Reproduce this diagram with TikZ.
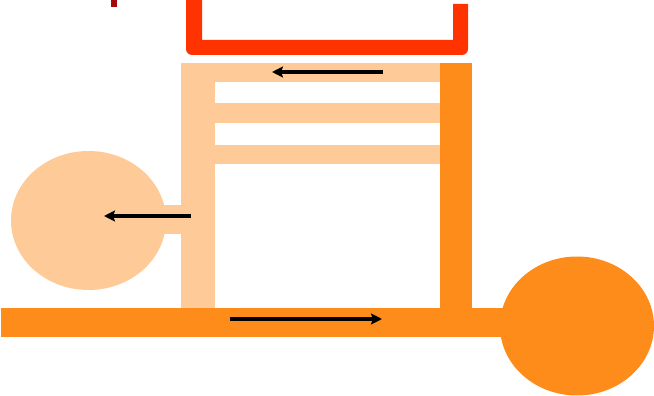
\documentclass[tikz,border=0pt]{standalone}
\usetikzlibrary{arrows.meta,shapes.geometric}
\definecolor{lightor}{HTML}{FECA98}
\definecolor{darkor}{HTML}{FD8C1A}
\definecolor{redu}{HTML}{FF3300}
\definecolor{darkred}{HTML}{A50A0A}
\tikzset{
  lightpart/.style={fill=lightor},
  darkpart/.style={fill=darkor},
  tank/.style={ellipse, inner sep=0pt, draw=none},
  flow/.style={draw=black, line width=3.5pt, -{Stealth[length=11pt,width=11pt,inset=2pt]}}
}
\begin{document}
\begin{tikzpicture}[x=1pt,y=-1pt]
\useasboundingbox (0,0) rectangle (654,396);
% small red mark
\fill[darkred] (111,-1) rectangle (117,7);
% red U
\fill[redu] (186,-2) -- (186,49) arc[start angle=180,end angle=90,radius=6]
  -- (462,55) arc[start angle=90,end angle=0,radius=6]
  -- (468,4) -- (453,4) -- (453,40) -- (202,40) -- (202,-2) -- cycle;
% light structure
\fill[lightpart] (181,63) rectangle (215,308);
\fill[lightpart] (181,63) rectangle (441,82);
\fill[lightpart] (214,103) rectangle (441,123);
\fill[lightpart] (214,145) rectangle (441,164);
\fill[lightpart] (150,205) rectangle (182,234);
\node[tank, lightpart, minimum width=155pt, minimum height=139pt] (tankL) at (88.5,220.5) {};
% dark structure
\fill[darkpart] (1,308) rectangle (520,337);
\fill[darkpart] (440,63) rectangle (472,337);
\node[tank, darkpart, minimum width=154pt, minimum height=139pt] (tankR) at (577,326) {};
% arrows
\coordinate (a1s) at (383,72); \coordinate (a1e) at (272,72);
\coordinate (a2s) at (191,216); \coordinate (a2e) at (104,216);
\coordinate (a3s) at (230,319); \coordinate (a3e) at (382,319);
\draw[flow] (a1s) -- (a1e);
\draw[flow] (a2s) -- (a2e);
\draw[flow] (a3s) -- (a3e);
\end{tikzpicture}
\end{document}
